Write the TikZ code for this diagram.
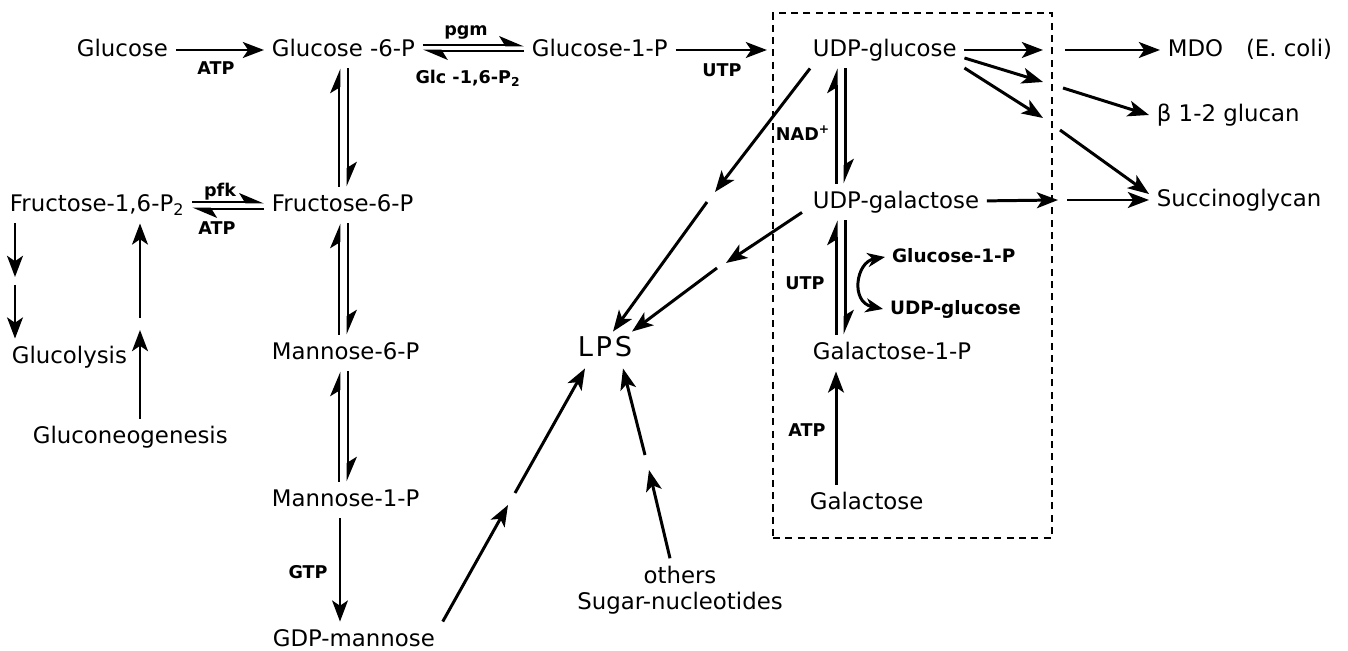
\documentclass[tikz,border=0pt]{standalone}
\usepackage{fontspec}
\setmainfont{DejaVu Sans}
\usetikzlibrary{arrows.meta}

\newcommand{\mainfs}{\fontsize{13}{14.5}\selectfont}
\newcommand{\smallfs}{\fontsize{10}{12}\selectfont\bfseries}

\begin{document}
\begin{tikzpicture}[x=0.02cm, y=-0.02cm,
    met/.style={anchor=west, font=\mainfs, inner sep=0pt, outer sep=4.5pt, text height=9.5pt, text depth=2.5pt},
    cof/.style={font=\smallfs, inner sep=1pt},
    sml/.style={anchor=west, font=\fontsize{10.5}{12}\selectfont\bfseries, inner sep=0pt, outer sep=4pt, text height=8pt, text depth=2pt},
    rxn/.style={line width=1.7pt, -{Stealth[length=12pt, width=9pt, inset=3pt]}},
    harp/.style={line width=1.7pt, -{Stealth[harpoon, length=12pt, width=10pt, inset=3pt]}}]

    \useasboundingbox (0,0) rectangle (1348,651);

    \node[draw, dashed, line width=0.9pt, dash pattern=on 4pt off 3pt, inner sep=0pt,
          minimum width=5.58cm, minimum height=10.5cm] (box) at (912.5,275.5) {};

    \node[met] (glc) at (69,50) {Glucose};
    \node[met] (g6p) at (264,50) {Glucose -6-P};
    \node[met] (g1p) at (524,50) {Glucose-1-P};
    \node[met] (udpglc) at (805,50) {UDP-glucose};
    \node[met] (mdo) at (1160,50) {MDO\hspace{1em}(E. coli)};
    \node[met] (glucan) at (1149,115) {β 1-2 glucan};
    \node[met] (succ) at (1149,200) {Succinoglycan};
    \node[met] (f16p) at (2,205) {Fructose-1,6-P\textsubscript{2}};
    \node[met] (f6p) at (264,205) {Fructose-6-P};
    \node[met] (glyc) at (4,357) {Glucolysis};
    \node[met] (gng) at (25,437) {Gluconeogenesis};
    \node[met] (m6p) at (264,353) {Mannose-6-P};
    \node[met] (m1p) at (264,500) {Mannose-1-P};
    \node[met] (gdp) at (265,640) {GDP-mannose};
    \node[met, font=\fontsize{15.5}{17}\selectfont] (lps) at (570,350) {L\kern1.5pt P\kern1.5pt S};
    \node[font=\mainfs, align=center, inner sep=0pt, outer sep=4.5pt] (oth) at (680,590) {others\\Sugar-nucleotides};
    \node[met] (udpgal) at (805,202) {UDP-galactose};
    \node[met] (gal1p) at (805,353) {Galactose-1-P};
    \node[met] (gal) at (802,503) {Galactose};
    \node[sml] (sg1p) at (885,257) {Glucose-1-P};
    \node[sml] (sudpg) at (883,309) {UDP-glucose};

    \node[cof] (atp1) at (216,68) {ATP};
    \node[cof] (pgm) at (466,32) {pgm};
    \node[cof] (glc16) at (468,78) {Glc -1,6-P\textsubscript{2}};
    \node[cof] (utp1) at (722,70) {UTP};
    \node[cof] (nad) at (803,133) {NAD\textsuperscript{+}};
    \node[cof] (pfk) at (220,192) {pfk};
    \node[cof] (atp2) at (217,228) {ATP};
    \node[cof] (utp2) at (805,283) {UTP};
    \node[cof] (gtp) at (308,572) {GTP};
    \node[cof] (atp3) at (807,430) {ATP};

    \coordinate (b1a) at (715,192);
    \coordinate (b1b) at (707,202);
    \coordinate (b2a) at (726,263);
    \coordinate (b2b) at (717,268);
    \coordinate (b3a) at (508,505);
    \coordinate (b3b) at (515,493);
    \coordinate (b4a) at (649,470);
    \coordinate (b4b) at (645,455);
    \coordinate (b5a) at (15,277);
    \coordinate (b5b) at (15,285);
    \coordinate (b6a) at (140,330);
    \coordinate (b6b) at (140,318);
    \coordinate (f1a) at (1043,50);
    \coordinate (f1b) at (1065,50);
    \coordinate (f2a) at (1043,82);
    \coordinate (f2b) at (1063,88);
    \coordinate (f3a) at (1043,118);
    \coordinate (f3b) at (1060,130);
    \coordinate (f4a) at (1058,200);
    \coordinate (f4b) at (1067,200);

    \draw[rxn] (glc) -- (g6p);
    \draw[harp] ([shift={(0,-5)}]g6p.east) -- ([shift={(0,-5)}]g1p.west);
    \draw[harp] ([shift={(0,1)}]g1p.west) -- ([shift={(0,1)}]g6p.east);
    \draw[rxn, shorten >=3pt] (g1p) -- (g1p -| box.west);

    \foreach \a/\b in {g6p/f6p, f6p/m6p, m6p/m1p} {
        \draw[harp] ([shift={(75,0)}]\b.north west) -- ([shift={(75,0)}]\a.south west);
        \draw[harp] ([shift={(84,0)}]\a.south west) -- ([shift={(84,0)}]\b.north west);
    }
    \draw[rxn, line width=1.3pt] ([shift={(76,0)}]m1p.south west) -- ([shift={(75,0)}]gdp.north west);

    \draw[harp] ([shift={(0,-3)}]f16p.east) -- ([shift={(0,-3)}]f6p.west);
    \draw[harp] ([shift={(0,4)}]f6p.west) -- ([shift={(0,4)}]f16p.east);
    \draw[rxn] ([shift={(13,0)}]f16p.south west) -- (b5a);
    \draw[rxn] (b5b) -- (b5b |- glyc.north);
    \draw[rxn] ([shift={(115,0)}]gng.north west) -- (b6a);
    \draw[rxn] (b6b) -- (b6b |- f16p.south);

    \draw[rxn] (gdp.north east) -- (b3a);
    \draw[rxn] (b3b) -- ([shift={(15,0)}]lps.south west);
    \draw[rxn] ([shift={(-10,0)}]oth.north) -- (b4a);
    \draw[rxn] (b4b) -- ([shift={(53,0)}]lps.south west);
    \draw[rxn] ([shift={(5,0)}]udpglc.south west) -- (b1a);
    \draw[rxn] (b1b) -- ([shift={(43,0)}]lps.north west);
    \draw[rxn] ([shift={(-3,-8)}]udpgal.south west) -- (b2a);
    \draw[rxn] (b2b) -- ([shift={(62,0)}]lps.north west);

    \draw[harp] ([shift={(31,0)}]udpgal.north west) -- ([shift={(31,0)}]udpglc.south west);
    \draw[harp] ([shift={(40,0)}]udpglc.south west) -- ([shift={(40,0)}]udpgal.north west);
    \draw[harp] ([shift={(31,0)}]gal1p.north west) -- ([shift={(31,0)}]udpgal.south west);
    \draw[harp] ([shift={(40,0)}]udpgal.south west) -- ([shift={(40,0)}]gal1p.north west);
    \draw[rxn] ([shift={(34,0)}]gal.north west) -- ([shift={(31,0)}]gal1p.south west);
    \draw[line width=1.7pt, {Stealth[length=10pt, width=8pt, inset=3pt]}-{Stealth[length=10pt, width=8pt, inset=3pt]}]
        (sg1p.west) .. controls (856,262) and (850,302) .. (sudpg.west);

    \draw[rxn] (udpglc.east) -- (f1a);
    \draw[rxn] (f1b) -- (mdo);
    \draw[rxn] ([shift={(0,8)}]udpglc.east) -- (f2a);
    \draw[rxn] (f2b) -- (glucan.west);
    \draw[rxn] ([shift={(0,18)}]udpglc.east) -- (f3a);
    \draw[rxn] (f3b) -- ([shift={(0,-6)}]succ.west);
    \draw[rxn] (udpgal) -- (f4a);
    \draw[rxn] (f4b) -- (succ);
\end{tikzpicture}
\end{document}
